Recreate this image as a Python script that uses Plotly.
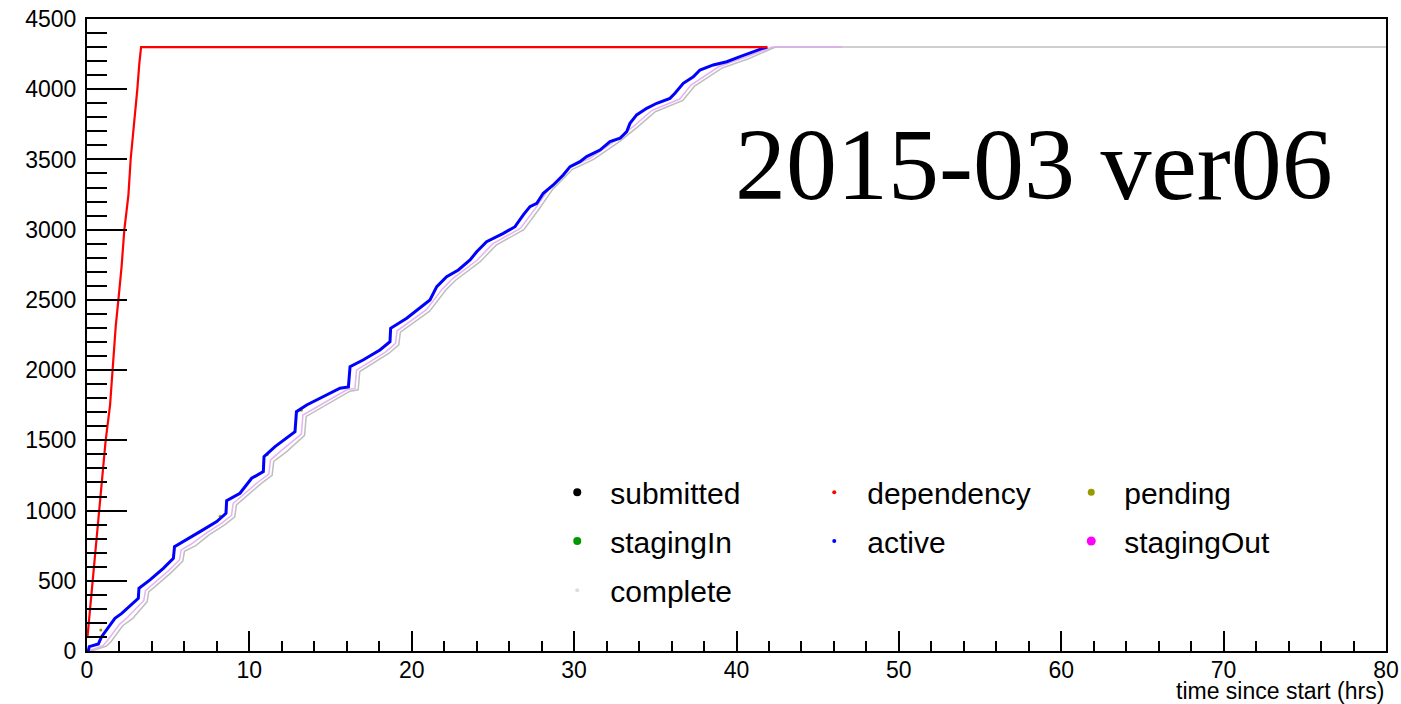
import plotly.graph_objects as go

# ---- data ----
active_t = [0, 0.08, 0.14, 0.7, 0.9, 1.11, 1.72, 2.14, 3.16, 3.2, 3.88, 4.7, 5.32, 5.39, 5.93,
            6.96, 7.99, 8.56, 8.6, 9.42, 10.14, 10.86, 10.9, 11.58, 12.81, 12.9, 13.53, 14.56,
            15.58, 16.1, 16.2, 17.0, 18.04, 18.66, 18.7, 19.69, 20.5, 21.12, 21.54, 22.15, 22.87,
            23.59, 24.0, 24.61, 25.64, 26.36, 26.87, 27.28, 27.7, 28.1, 28.72, 29.33, 29.75, 30.36,
            30.77, 31.59, 32.21, 32.83, 33.24, 33.44, 33.85, 34.47, 35.09, 35.9, 36.21, 36.72,
            37.34, 37.75, 38.57, 39.4, 40.22, 41.03, 41.65, 41.9]
active_c = [0, 2, 31, 50, 102, 138, 233, 268, 375, 446, 506, 589, 660, 743, 778,
            850, 921, 980, 1070, 1123, 1230, 1277, 1384, 1455, 1562, 1704, 1752, 1811,
            1871, 1880, 2024, 2072, 2143, 2202, 2298, 2369, 2440, 2499, 2594, 2665, 2713,
            2784, 2843, 2914, 2974, 3021, 3105, 3164, 3188, 3259, 3318, 3389, 3449, 3484,
            3520, 3567, 3627, 3651, 3698, 3757, 3817, 3864, 3900, 3935, 3971, 4042,
            4089, 4137, 4173, 4196, 4232, 4268, 4292, 4300]

stagingout_t = [0.1, 0.3, 1.0, 1.3, 2.0, 2.5, 3.5, 3.6, 4.2, 5.0, 5.7, 5.8, 6.4, 7.3, 8.3, 8.9,
                9.0, 10.5, 11.2, 11.3, 12.0, 13.2, 13.3, 14.9, 16.0, 16.5, 16.6, 18.4, 19.0, 19.1,
                20.9, 21.9, 22.5, 24.0, 25.0, 26.7, 27.6, 28.5, 29.7, 31.0, 32.5, 33.7, 34.8,
                36.5, 37.2, 38.9, 40.5, 42.2, 46.5]
stagingout_c = [0, 10, 40, 80, 190, 240, 360, 430, 490, 570, 650, 720, 760, 835, 910, 965,
                1050, 1200, 1260, 1360, 1430, 1545, 1680, 1790, 1860, 1870, 2000, 2130, 2190, 2280,
                2430, 2580, 2650, 2780, 2900, 3010, 3150, 3300, 3440, 3510, 3630, 3740, 3850,
                3930, 4030, 4160, 4225, 4300, 4300]

complete_t = [0.2, 0.5, 1.2, 1.5, 2.2, 2.8, 3.7, 3.8, 4.4, 5.2, 5.9, 6.0, 6.7, 7.5, 8.5, 9.1,
              9.2, 10.7, 11.4, 11.5, 12.3, 13.4, 13.5, 15.1, 16.2, 16.7, 16.8, 18.6, 19.2, 19.3,
              21.1, 22.1, 22.7, 24.2, 25.2, 26.9, 27.8, 28.7, 29.9, 31.2, 32.7, 33.9, 35.0,
              36.7, 37.4, 39.1, 40.7, 42.4, 80]
complete_c = [0, 8, 35, 70, 180, 230, 350, 420, 480, 560, 640, 710, 750, 825, 900, 955,
              1040, 1190, 1250, 1350, 1420, 1535, 1670, 1780, 1850, 1860, 1990, 2120, 2180, 2270,
              2420, 2570, 2640, 2770, 2890, 3000, 3140, 3290, 3430, 3500, 3620, 3730, 3840,
              3920, 4020, 4150, 4215, 4300, 4300]

dependency_t = [0.03, 0.25, 0.43, 0.76, 1.01, 1.15, 1.42, 1.56, 1.77, 1.93, 2.13, 2.30, 2.55,
                2.69, 2.89, 3.10, 3.22, 3.33, 41.9]
dependency_c = [100, 364, 618, 1000, 1325, 1500, 1750, 2000, 2313, 2497, 2737, 3000, 3246,
                3503, 3726, 4000, 4178, 4300, 4300]

pending_t = [0.85, 8.2, 11.1, 13.2]
pending_c = [150, 960, 1400, 1715]

legend_rows = [["submitted", "dependency", "pending"],
               ["stagingIn", "active", "stagingOut"],
               ["complete"]]
legend_colors = {"submitted": "#000000", "dependency": "#ff0000", "pending": "#999900",
                 "stagingIn": "#009900", "active": "#0000ff", "stagingOut": "#ff00ff",
                 "complete": "#dddddd"}
legend_sizes = {"submitted": 8, "dependency": 4, "pending": 7, "stagingIn": 8,
                "active": 4, "stagingOut": 9, "complete": 4}

x_title = "time since start (hrs)"
label = "2015-03 ver06"

SANS = "Liberation Sans, Arial, sans-serif"
SERIF = "Liberation Serif, Times New Roman, serif"

fig = go.Figure()

# data curves (legend handled by marker-only entries below)
fig.add_trace(go.Scatter(x=complete_t, y=complete_c, mode="lines", showlegend=False,
                         line=dict(color="rgb(190,190,190)", width=1.5), hoverinfo="skip"))
fig.add_trace(go.Scatter(x=stagingout_t, y=stagingout_c, mode="lines", showlegend=False,
                         line=dict(color="rgba(225,165,240,0.85)", width=1.5), hoverinfo="skip"))
fig.add_trace(go.Scatter(x=pending_t, y=pending_c, mode="markers", showlegend=False,
                         marker=dict(color="#999900", size=3), hoverinfo="skip"))
fig.add_trace(go.Scatter(x=active_t, y=active_c, mode="lines", showlegend=False,
                         line=dict(color="#0000ff", width=3)))
fig.add_trace(go.Scatter(x=dependency_t, y=dependency_c, mode="lines", showlegend=False,
                         line=dict(color="#ff0000", width=2.2)))

# legend entries: one horizontal legend per row
legend_names = ["legend", "legend2", "legend3"]
for row, lname in zip(legend_rows, legend_names):
    for name in row:
        fig.add_trace(go.Scatter(x=[None], y=[None], mode="markers", name=name,
                                 legend=lname,
                                 marker=dict(color=legend_colors[name], size=legend_sizes[name])))

row_y = [0.251, 0.174, 0.096]
legend_common = dict(orientation="h", x=0.352, xanchor="left", yanchor="middle",
                     entrywidth=186, entrywidthmode="pixels", itemwidth=56,
                     font=dict(family=SANS, size=30, color="black"),
                     bgcolor="rgba(0,0,0,0)", borderwidth=0, itemclick=False)

axis_font = dict(family=SANS, size=23, color="black")

fig.update_layout(
    width=1401, height=704,
    margin=dict(l=87, r=15, t=19, b=53, autoexpand=False),
    paper_bgcolor="white", plot_bgcolor="white",
    showlegend=True,
    legend=dict(y=row_y[0], **legend_common),
    legend2=dict(y=row_y[1], **legend_common),
    legend3=dict(y=row_y[2], **legend_common),
    xaxis=dict(range=[0, 80], dtick=10, tick0=0, ticks="inside", ticklen=20, tickwidth=1.5,
               tickcolor="black", showline=True, linewidth=2, linecolor="black", mirror=True,
               showgrid=False, zeroline=False, tickfont=axis_font, automargin=False,
               ticklabelstandoff=-3, ticklabeloverflow="allow",
               minor=dict(dtick=2, ticks="inside", ticklen=10, tickwidth=1.5, tickcolor="black",
                          showgrid=False)),
    yaxis=dict(range=[0, 4500], dtick=500, tick0=0, ticks="inside", ticklen=40, tickwidth=1.5,
               tickcolor="black", showline=True, linewidth=2, linecolor="black", mirror=True,
               showgrid=False, zeroline=False, tickfont=axis_font, ticklabelstandoff=4,
               automargin=False, ticklabeloverflow="allow",
               minor=dict(dtick=100, ticks="inside", ticklen=20, tickwidth=1.5, tickcolor="black",
                          showgrid=False)),
    annotations=[
        dict(text=x_title, xref="paper", yref="paper", x=1, y=-0.063, xanchor="right",
             yanchor="middle", showarrow=False, font=dict(family=SANS, size=23, color="black")),
        dict(text=label, xref="paper", yref="paper", x=0.729, y=0.769, xanchor="center",
             yanchor="middle", showarrow=False, font=dict(family=SERIF, size=102, color="black")),
    ],
)

# remove the browser's default 8px body margin so the figure fills the window exactly
fig.write_html("out.html", config={"displayModeBar": False},
               post_script="document.body.style.margin='0';document.body.style.overflow='hidden';")
